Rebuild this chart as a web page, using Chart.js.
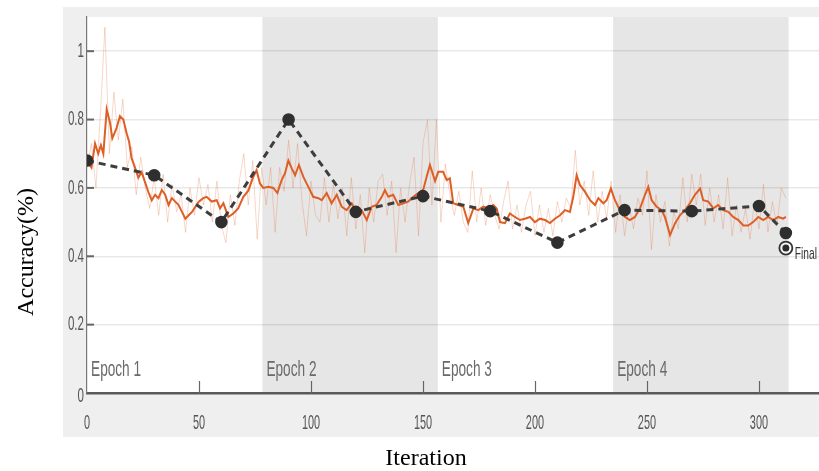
<!DOCTYPE html>
<html>
<head>
<meta charset="utf-8">
<script src="https://cdn.jsdelivr.net/npm/chart.js@4.4.1/dist/chart.umd.min.js"></script>
<style>
    html, body { margin: 0; padding: 0; background: #fff; }
    #accChart { display: block; }
</style>
</head>
<body>
<canvas id="accChart" width="819" height="471"></canvas>
<script>
// Training accuracy (smoothed)
const smoothIter = [0, 2, 3.6, 5, 6.2, 7.3, 8.8, 10.3, 11.3, 13.2, 14.7, 16.2, 17.7, 18.8, 19.9, 21.4, 22.9, 24.4, 25.9, 27.4,
    28.9, 30.4, 31.9, 33.4, 34.9, 36.4, 37.9, 39.4, 40.9, 42.4, 43.9, 45.4, 46.9, 48.4, 49.9, 51.9, 53.4, 55.7, 57.9, 59.4,
    60.9, 63.1, 65.3, 67.5, 69.8, 72, 74.2, 75.7, 77.2, 78.7, 81, 83.2, 85, 86.9, 88.4, 89.9, 91.4, 92.9, 94.6, 96.6,
    98.8, 101, 103.3, 104.8, 107, 109.2, 111.5, 113.7, 115.9, 118.2, 120.4, 122.6, 124.9, 127.1, 129.3, 131.6, 133, 134.5, 136.7, 139,
    141.2, 143.4, 145.7, 147.9, 150.1, 151.6, 153.1, 155.4, 156.8, 159, 160.6, 162, 163.5, 165.8, 168, 170.2, 172.5, 174.7, 176.9, 179.2,
    181.4, 182.9, 184.4, 186.6, 188.8, 191, 193.3, 195.5, 197.8, 200, 202.2, 204.5, 206.7, 208.9, 211.2, 213.4, 215.6, 217.1, 218.6, 220.1,
    222.3, 224.6, 226.8, 228.3, 230.5, 232, 233.9, 235.7, 237.9, 240.2, 242.4, 244.6, 246.9, 249.1, 250.6, 252.1, 254.3, 256.6, 258, 260.3,
    262.5, 264.7, 267, 269.2, 271.4, 273.7, 275.1, 277.4, 279.6, 281.8, 284, 286.3, 288.5, 290.8, 293, 295.2, 297.4, 299.7, 301.9, 304.1,
    306.4, 308.6, 310.8, 312];
const smoothAcc = [0.68, 0.66, 0.73, 0.70, 0.725, 0.70, 0.83, 0.79, 0.745, 0.775, 0.81, 0.80, 0.76, 0.735, 0.687, 0.66, 0.63, 0.646, 0.617, 0.588,
    0.564, 0.58, 0.57, 0.594, 0.58, 0.55, 0.57, 0.56, 0.55, 0.53, 0.51, 0.52, 0.53, 0.545, 0.56, 0.57, 0.574, 0.56, 0.564, 0.54,
    0.555, 0.515, 0.525, 0.54, 0.574, 0.592, 0.632, 0.652, 0.613, 0.60, 0.603, 0.60, 0.585, 0.623, 0.643, 0.68, 0.657, 0.637, 0.667, 0.632,
    0.603, 0.574, 0.57, 0.564, 0.585, 0.555, 0.58, 0.545, 0.535, 0.555, 0.525, 0.535, 0.506, 0.545, 0.55, 0.574, 0.594, 0.574, 0.58, 0.55,
    0.555, 0.56, 0.574, 0.585, 0.594, 0.632, 0.667, 0.62, 0.647, 0.647, 0.623, 0.628, 0.555, 0.55, 0.545, 0.497, 0.54, 0.535, 0.545, 0.54,
    0.55, 0.54, 0.50, 0.497, 0.525, 0.515, 0.506, 0.51, 0.515, 0.50, 0.51, 0.506, 0.497, 0.51, 0.52, 0.535, 0.53, 0.574, 0.637, 0.608,
    0.589, 0.564, 0.55, 0.57, 0.555, 0.564, 0.598, 0.564, 0.535, 0.515, 0.506, 0.515, 0.54, 0.58, 0.603, 0.564, 0.545, 0.535, 0.515, 0.462,
    0.496, 0.52, 0.535, 0.555, 0.58, 0.598, 0.564, 0.56, 0.54, 0.55, 0.535, 0.53, 0.515, 0.506, 0.49, 0.49, 0.50, 0.515, 0.506, 0.515,
    0.506, 0.515, 0.51, 0.515];

// Training accuracy (raw, faint trace)
const rawIter = [0, 2, 4, 6, 8, 10, 12, 14, 16, 18, 20, 22, 24, 26, 28, 30, 32, 34, 36, 38,
    40, 42, 44, 46, 48, 50, 52, 54, 56, 58, 60, 62, 64, 66, 68, 70, 72, 74, 76, 78,
    80, 82, 84, 86, 88, 90, 92, 94, 96, 98, 100, 102, 104, 106, 108, 110, 112, 114, 116, 118,
    120, 122, 124, 126, 128, 130, 132, 134, 136, 138, 140, 142, 144, 146, 148, 150, 152, 154, 156, 158,
    160, 162, 164, 166, 168, 170, 172, 174, 176, 178, 180, 182, 184, 186, 188, 190, 192, 194, 196, 198,
    200, 202, 204, 206, 208, 210, 212, 214, 216, 218, 220, 222, 224, 226, 228, 230, 232, 234, 236, 238,
    240, 242, 244, 246, 248, 250, 252, 254, 256, 258, 260, 262, 264, 266, 268, 270, 272, 274, 276, 278,
    280, 282, 284, 286, 288, 290, 292, 294, 296, 298, 300, 302, 304, 306, 308, 310, 312];
const rawAcc = [0.66, 0.73, 0.60, 0.82, 1.07, 0.70, 0.88, 0.74, 0.86, 0.66, 0.72, 0.58, 0.69, 0.60, 0.54, 0.63, 0.52, 0.64, 0.50, 0.61,
    0.53, 0.58, 0.47, 0.60, 0.52, 0.63, 0.55, 0.61, 0.50, 0.62, 0.49, 0.44, 0.58, 0.49, 0.62, 0.70, 0.55, 0.68, 0.45, 0.66,
    0.55, 0.66, 0.47, 0.66, 0.59, 0.74, 0.60, 0.73, 0.56, 0.46, 0.62, 0.52, 0.50, 0.63, 0.50, 0.61, 0.51, 0.60, 0.46, 0.63,
    0.48, 0.58, 0.41, 0.60, 0.50, 0.62, 0.64, 0.52, 0.62, 0.41, 0.60, 0.50, 0.61, 0.69, 0.46, 0.73, 0.80, 0.55, 0.80, 0.50,
    0.67, 0.58, 0.52, 0.59, 0.50, 0.47, 0.65, 0.50, 0.60, 0.49, 0.58, 0.52, 0.48, 0.56, 0.62, 0.48, 0.55, 0.47, 0.55, 0.59,
    0.46, 0.55, 0.47, 0.54, 0.46, 0.56, 0.50, 0.57, 0.54, 0.71, 0.55, 0.62, 0.52, 0.65, 0.50, 0.59, 0.51, 0.62, 0.47, 0.58,
    0.46, 0.55, 0.48, 0.57, 0.52, 0.65, 0.42, 0.58, 0.50, 0.56, 0.43, 0.53, 0.48, 0.63, 0.50, 0.64, 0.55, 0.64, 0.49, 0.60,
    0.50, 0.58, 0.48, 0.63, 0.46, 0.55, 0.47, 0.54, 0.45, 0.56, 0.48, 0.61, 0.47, 0.56, 0.49, 0.60, 0.57];

// Validation accuracy (dashed, with markers)
const valIter = [0, 30, 60, 90, 120, 150, 180, 210, 240, 270, 300, 312];
const valAcc = [0.68, 0.637, 0.50, 0.80, 0.53, 0.576, 0.532, 0.44, 0.535, 0.532, 0.547, 0.468];

// Final marker
const finalIter = [312];
const finalAcc = [0.424];

// Epoch bands
const epochStart = [0, 78.3, 156.6, 234.9];
const epochEnd = [78.3, 156.6, 234.9, 313.2];
const epochLabels = ['Epoch 1', 'Epoch 2', 'Epoch 3', 'Epoch 4'];

const xTicks = [0, 50, 100, 150, 200, 250, 300];
const yTicks = [0, 0.2, 0.4, 0.6, 0.8, 1];
const yTickLabels = ['0', '0.2', '0.4', '0.6', '0.8', '1'];

function toPoints(xs, ys) {
    return xs.map((x, i) => ({ x: x, y: ys[i] }));
}

// texte étroit (le graphique d'origine est étiré verticalement)
function narrowText(ctx, text, x, y, size, sx, align, color, family) {
    ctx.save();
    ctx.font = size + 'px ' + (family || '"Liberation Sans", Arial, sans-serif');
    ctx.fillStyle = color;
    ctx.textBaseline = 'middle';
    ctx.translate(x, y);
    ctx.scale(sx, 1);
    ctx.textAlign = align;
    ctx.fillText(text, 0, 0);
    ctx.restore();
}

const matlabLook = {
    id: 'matlabLook',
    beforeDraw(chart) {
        const ctx = chart.ctx;
        const a = chart.chartArea;
        const xs = chart.scales.x;
        ctx.save();
        ctx.fillStyle = '#ffffff';
        ctx.fillRect(0, 0, chart.width, chart.height);
        ctx.fillStyle = '#efefef';
        ctx.fillRect(a.left - 24, a.top - 10, chart.width - (a.left - 24), a.bottom - a.top + 54);
        ctx.fillStyle = '#ffffff';
        ctx.fillRect(a.left, a.top, a.right - a.left, a.bottom - a.top);
        ctx.fillStyle = '#e6e6e6';
        for (let i = 0; i < epochStart.length; i++) {
            if (i % 2 === 1) {
                const x0 = xs.getPixelForValue(epochStart[i]);
                const x1 = xs.getPixelForValue(epochEnd[i]);
                ctx.fillRect(x0, a.top, x1 - x0, a.bottom - a.top);
            }
        }
        ctx.restore();
    },
    afterDraw(chart) {
        const ctx = chart.ctx;
        const a = chart.chartArea;
        const xs = chart.scales.x;
        const ys = chart.scales.y;

        // tick marks, inside
        ctx.save();
        ctx.strokeStyle = '#666';
        ctx.lineWidth = 1.2;
        xTicks.forEach(v => {
            if (v === 0) return;
            const px = Math.round(xs.getPixelForValue(v)) + 0.5;
            ctx.beginPath();
            ctx.moveTo(px, a.bottom);
            ctx.lineTo(px, a.bottom - 12);
            ctx.stroke();
        });
        ctx.lineWidth = 2;
        yTicks.forEach(v => {
            if (v === 0) return;
            const py = ys.getPixelForValue(v);
            ctx.beginPath();
            ctx.moveTo(a.left, py);
            ctx.lineTo(a.left + 7, py);
            ctx.stroke();
        });
        ctx.restore();

        // tick labels
        xTicks.forEach(v => {
            narrowText(ctx, String(v), xs.getPixelForValue(v), a.bottom + 30, 21, 0.52, 'center', '#555');
        });
        yTicks.forEach((v, i) => {
            narrowText(ctx, yTickLabels[i], a.left - 3, ys.getPixelForValue(v) + (v === 0 ? 3 : 0), 21, 0.55, 'right', '#555');
        });

        // epoch labels
        epochLabels.forEach((t, i) => {
            narrowText(ctx, t, xs.getPixelForValue(epochStart[i] + 1.8), a.bottom - 23, 22, 0.62, 'left', '#6a6a6a');
        });

        // final label
        narrowText(ctx, 'Final', xs.getPixelForValue(finalIter[0]) + 9, ys.getPixelForValue(finalAcc[0]) + 6, 17, 0.6, 'left', '#333');

        // axis titles
        ctx.save();
        ctx.fillStyle = '#000';
        ctx.font = '24px "Liberation Serif", "Times New Roman", serif';
        ctx.textAlign = 'center';
        ctx.textBaseline = 'middle';
        ctx.fillText('Iteration', (a.left + 765) / 2, 459);
        ctx.translate(27, (a.top + a.bottom) / 2 + 47);
        ctx.rotate(-Math.PI / 2);
        ctx.fillText('Accuracy(%)', 0, 0);
        ctx.restore();
    }
};

const ctx = document.getElementById('accChart').getContext('2d');
new Chart(ctx, {
    type: 'line',
    data: {
        datasets: [
            {
                label: 'Final dot',
                data: toPoints(finalIter, finalAcc),
                showLine: false,
                pointRadius: 3.5,
                pointBorderWidth: 0,
                pointBackgroundColor: '#2a2a2a',
                order: 0
            },
            {
                label: 'Final',
                data: toPoints(finalIter, finalAcc),
                showLine: false,
                pointRadius: 6.5,
                pointBorderWidth: 1.8,
                pointBorderColor: '#333',
                pointBackgroundColor: 'rgba(255, 255, 255, 0.5)',
                order: 1
            },
            {
                label: 'Validation',
                data: toPoints(valIter, valAcc),
                borderColor: '#3d3d3d',
                borderWidth: 3,
                borderDash: [7, 5],
                pointRadius: 4.8,
                pointBackgroundColor: '#2f2f2f',
                pointBorderColor: '#2f2f2f',
                tension: 0,
                order: 2
            },
            {
                label: 'Training (smoothed)',
                data: toPoints(smoothIter, smoothAcc),
                borderColor: '#dd5f26',
                borderWidth: 2,
                pointRadius: 0,
                tension: 0,
                order: 3
            },
            {
                label: 'Training',
                data: toPoints(rawIter, rawAcc),
                borderColor: 'rgba(226, 110, 60, 0.28)',
                borderWidth: 1,
                pointRadius: 0,
                tension: 0,
                order: 4
            }
        ]
    },
    options: {
        responsive: false,
        animation: false,
        layout: {
            autoPadding: false,
            padding: { left: 87, top: 17, right: 0, bottom: 78 }
        },
        plugins: {
            legend: { display: false },
            tooltip: { enabled: false }
        },
        scales: {
            x: {
                type: 'linear',
                min: 0,
                max: 326.8,
                ticks: { display: false, stepSize: 50, includeBounds: false },
                grid: { display: false, drawTicks: false },
                border: { display: true, color: '#5a5a5a', width: 2.5 }
            },
            y: {
                min: 0,
                max: 1.1,
                ticks: { display: false, stepSize: 0.2, includeBounds: false },
                grid: { color: 'rgba(0, 0, 0, 0.09)', lineWidth: 1.5, drawTicks: false },
                border: { display: true, color: '#777', width: 1.2 }
            }
        }
    },
    plugins: [matlabLook]
});
</script>
</body>
</html>
